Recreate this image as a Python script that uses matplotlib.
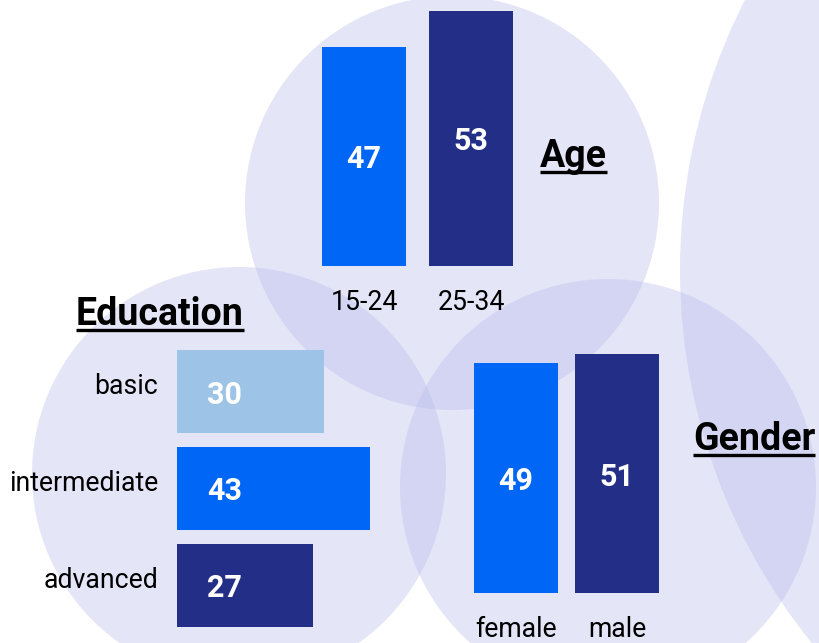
"""Survey profile: age, gender and education shown as bars on bubbles."""

import matplotlib

matplotlib.use("Agg")
from matplotlib import pyplot as plt
from matplotlib.lines import Line2D
from matplotlib.patches import Circle
from matplotlib.transforms import ScaledTranslation

age_groups = ["15-24", "25-34"]
age_values = [47, 53]
gender_groups = ["female", "male"]
gender_values = [49, 51]
education_levels = ["basic", "intermediate", "advanced"]
education_values = [30, 43, 27]

BLUE = "#0066F5"
NAVY = "#232F86"
LIGHT = "#9DC3E6"
BUBBLE = "#BDBFEB"

W, H = 819, 643
plt.rcParams["font.family"] = ["Roboto", "DejaVu Sans"]


def frac(x0, y0, x1, y1):
    """Pixel box (origin top-left) to a figure-fraction rect."""
    return [x0 / W, 1 - y1 / H, (x1 - x0) / W, (y1 - y0) / H]


def clean(ax):
    ax.set_facecolor("none")
    for spine in ax.spines.values():
        spine.set_visible(False)
    ax.tick_params(length=0, labelsize=19.2, colors="black")


def column_chart(fig, rect, labels, values, colors, width, ylo):
    ax = fig.add_axes(frac(*rect))
    clean(ax)
    x = list(range(len(values)))
    # bars rise from the bottom of the (non-zero) value axis
    ax.bar(x, [v - ylo for v in values], bottom=ylo, width=width, color=colors)
    ax.set_xlim(-width / 2, len(values) - 1 + width / 2)
    ax.set_ylim(ylo, max(values))
    ax.set_yticks([])
    ax.set_xticks(x, labels)
    ax.tick_params(axis="x", pad=16.5)
    for xi, v in zip(x, values):
        ax.text(xi, (ylo + v) / 2, str(v), ha="center", va="center_baseline",
                color="white", fontsize=22, fontweight="bold")
    return ax


def bar_chart(fig, rect, labels, values, colors, height, xlo, xhi):
    ax = fig.add_axes(frac(*rect))
    clean(ax)
    y = list(range(len(values)))
    ax.barh(y, [v - xlo for v in values], left=xlo, height=height, color=colors)
    ax.set_xlim(xlo, xhi)
    ax.set_ylim(len(values) - 1 + height / 2, -height / 2)
    ax.set_xticks([])
    ax.set_yticks(y, labels)
    ax.tick_params(axis="y", pad=13.5)
    shift = ScaledTranslation(0, 0.08, fig.dpi_scale_trans)
    for lab in ax.get_yticklabels():
        lab.set_transform(lab.get_transform() + shift)
    for yi, v in zip(y, values):
        ax.annotate(str(v), xy=(xlo, yi), xytext=(34.5, 0), textcoords="offset points",
                    ha="center", va="center_baseline", color="white",
                    fontsize=22, fontweight="bold")
    return ax


fig = plt.figure(figsize=(W / 100, H / 100), dpi=100)
bg = fig.add_axes([0, 0, 1, 1])
bg.set_xlim(0, W)
bg.set_ylim(H, 0)
bg.axis("off")
for cx, cy, r in [(452, 203, 207), (239, 474, 207), (608, 487, 208), (1274, 270, 594)]:
    bg.add_patch(Circle((cx, cy), r, color=BUBBLE, alpha=0.4, lw=0))

column_chart(fig, (322, 11, 513, 266), age_groups, age_values, [BLUE, NAVY], 0.785, 10.5)
column_chart(fig, (474, 354, 659, 593), gender_groups, gender_values, [BLUE, NAVY], 0.832, -2.1)
bar_chart(fig, (177, 350, 370, 627), education_levels, education_values,
          [LIGHT, BLUE, NAVY], 0.856, -11.2, 43)

titles = []
for name, x, y in [("Age", 540, 167), ("Education", 76, 325), ("Gender", 693, 450)]:
    t = fig.text(x / W, 1 - y / H, name, fontsize=27, fontweight="bold",
                 ha="left", va="baseline")
    titles.append((t, y))

# underline the titles
fig.canvas.draw()
renderer = fig.canvas.get_renderer()
for t, y in titles:
    bb = t.get_window_extent(renderer)
    yy = (H - (y + 4.5)) / H
    fig.add_artist(Line2D([bb.x0 / W, bb.x1 / W], [yy, yy], transform=fig.transFigure,
                          color="black", lw=2.4, solid_capstyle="butt"))

fig.savefig("out.png", dpi=100)
